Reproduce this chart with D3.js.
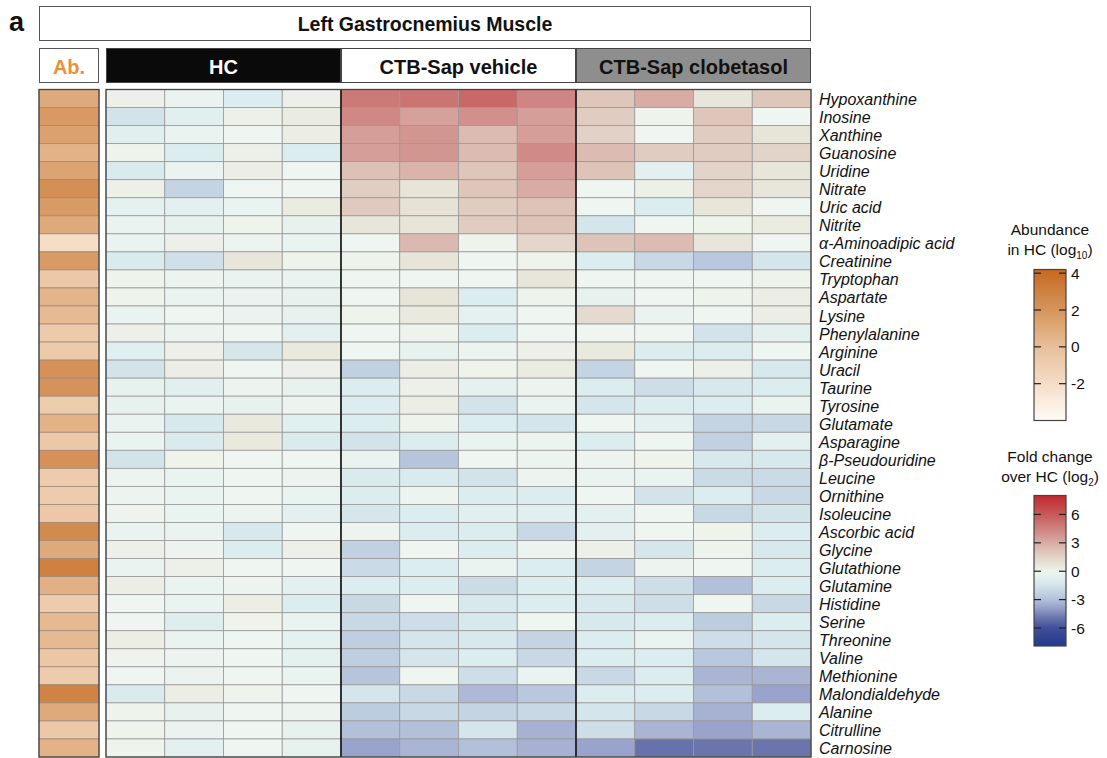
<!DOCTYPE html>
<html>
<head>
<meta charset="utf-8">
<script src="https://cdn.jsdelivr.net/npm/d3@7"></script>
<style>
  html, body { margin: 0; padding: 0; background: #fff; }
  svg { display: block; font-family: "Liberation Sans", Arial, sans-serif; }
</style>
</head>
<body>
<svg id="chart" width="1107" height="758"></svg>
<script>
// ---- data ----
const panelLetter = "a";
const tissue = "Left Gastrocnemius Muscle";
const groups = ["HC", "CTB-Sap vehicle", "CTB-Sap clobetasol"];
const replicates = [1, 2, 3, 4];

const metabolites = [
  "Hypoxanthine", "Inosine", "Xanthine", "Guanosine", "Uridine", "Nitrate",
  "Uric acid", "Nitrite", "α-Aminoadipic acid", "Creatinine", "Tryptophan",
  "Aspartate", "Lysine", "Phenylalanine", "Arginine", "Uracil", "Taurine",
  "Tyrosine", "Glutamate", "Asparagine", "β-Pseudouridine", "Leucine",
  "Ornithine", "Isoleucine", "Ascorbic acid", "Glycine", "Glutathione",
  "Glutamine", "Histidine", "Serine", "Threonine", "Valine", "Methionine",
  "Malondialdehyde", "Alanine", "Citrulline", "Carnosine"
];

// mean abundance in HC, log10
const abundanceHC = [
  1.0, 1.8, 1.4, 0.6, 1.3, 2.3, 1.7, 1.0, -2.0, 1.7, -0.6, 0.5, 0.2,
  -0.7, -0.7, 2.2, 2.1, -0.9, 0.6, -0.6, 2.2, -0.8, -0.8, -0.6, 2.5,
  1.0, 3.0, 0.7, -0.8, 0.3, 0.3, -0.5, -0.8, 2.9, 1.0, -0.6, 0.6
];

// fold change over HC mean, log2, one value per animal
const foldHC = [
  [0.2, -0.2, -1.0, 0.2], [-1.5, -0.7, 0.2, 0.4], [-0.7, -0.2, 0.0, 0.3],
  [0.1, -1.0, 0.2, -1.0], [-1.1, -0.2, 0.3, 0.0], [0.2, -2.2, 0.0, 0.0],
  [-0.5, -0.6, -0.3, 0.4], [-0.2, -0.4, 0.1, -0.4], [-0.3, 0.2, -0.1, -0.3],
  [-1.1, -1.6, 0.6, 0.1], [0.1, -0.1, -0.2, -0.3], [0.1, -0.3, -0.2, -0.4],
  [-0.3, 0.0, -0.2, -0.4], [0.2, -0.1, 0.0, -0.6], [-0.8, 0.2, -1.3, 0.5],
  [-1.5, 0.3, 0.0, 0.2], [-0.4, -0.7, -0.1, -0.4], [-0.4, -0.3, -0.4, -0.1],
  [-0.3, -1.2, 0.5, -0.8], [-0.3, -1.1, 0.5, -1.1], [-1.5, 0.1, 0.0, 0.0],
  [-0.1, -0.3, 0.0, -0.1], [-0.1, -0.3, 0.0, -0.3], [0.1, -0.3, -0.1, -0.6],
  [-0.2, -0.2, -1.2, 0.0], [0.2, -0.1, -1.0, 0.2], [-0.3, 0.2, 0.0, 0.0],
  [0.3, -0.3, -0.1, -0.6], [0.0, -0.3, 0.3, -1.0], [0.0, -0.9, 0.1, -0.3],
  [0.3, -0.2, 0.0, -0.5], [0.1, -0.1, 0.0, -0.5], [0.0, -0.2, 0.0, -0.3],
  [-1.1, 0.3, 0.1, 0.0], [0.1, -0.4, 0.0, -0.1], [0.1, -0.2, 0.0, -0.4],
  [0.1, -0.6, 0.0, -0.4]
];

const foldVehicle = [
  [4.8, 5.0, 5.5, 4.4], [4.3, 3.4, 4.0, 3.5], [3.5, 3.8, 2.4, 3.5],
  [3.5, 3.8, 2.4, 4.2], [2.2, 2.7, 2.0, 3.5], [1.7, 0.7, 2.0, 3.0],
  [1.9, 0.8, 1.8, 2.1], [0.6, 0.7, 1.8, 2.1], [0.0, 2.5, 0.1, 1.4],
  [0.1, 0.7, 0.0, 0.1], [0.0, 0.0, 0.0, 0.6], [0.0, 0.7, -1.0, 0.1],
  [0.1, 0.5, -0.5, 0.0], [0.0, 0.1, -1.0, 0.0], [0.0, -0.4, -0.1, 0.2],
  [-2.3, 0.3, 0.1, 0.4], [-1.0, 0.2, -0.5, -0.1], [-1.0, 0.3, -1.5, -0.3],
  [-1.0, 0.1, -1.0, -1.4], [-1.5, -1.0, -0.3, -0.1], [-0.2, -2.8, 0.0, -0.1],
  [-1.1, -1.1, -1.5, -0.1], [-1.0, -0.1, -1.0, -1.0], [-1.3, -1.0, -0.8, -0.8],
  [-0.1, -1.0, -1.0, -2.0], [-2.3, 0.0, -1.0, -0.1], [-1.9, -1.0, -0.3, -1.0],
  [-1.0, -1.0, -1.8, -1.0], [-2.0, 0.0, -1.2, -1.0], [-2.0, -1.7, -1.2, 0.0],
  [-2.4, -1.4, -1.2, -2.2], [-2.4, -1.4, -1.0, -2.0], [-2.8, 0.0, -1.7, -0.3],
  [-1.4, -2.0, -3.2, -2.7], [-2.5, -2.0, -2.2, -2.0], [-3.0, -3.0, -1.4, -3.4],
  [-3.8, -3.3, -3.0, -3.4]
];

const foldClobetasol = [
  [2.0, 3.0, 0.6, 2.0], [1.8, 0.1, 2.0, 0.0], [1.6, 0.0, 1.8, 0.7],
  [2.4, 1.8, 1.8, 1.5], [2.1, -0.6, 1.5, 0.6], [0.0, 0.2, 1.4, 0.6],
  [0.0, -1.0, 0.6, 0.0], [-1.4, 0.0, 0.1, 0.4], [2.1, 2.4, 0.6, 0.0],
  [-1.0, -2.0, -2.7, -1.4], [0.0, 0.0, 0.0, 0.1], [-0.4, 0.0, 0.1, 0.3],
  [1.2, -0.2, 0.0, 0.3], [0.0, 0.0, -1.5, -0.6], [0.5, -1.0, -1.0, 0.0],
  [-2.2, 0.0, 0.2, -1.2], [-1.0, -1.7, -1.2, -1.0], [-1.4, -1.0, -1.0, -0.3],
  [0.0, -0.6, -2.2, -2.0], [-1.0, 0.0, -2.3, -0.6], [-0.1, 0.1, -1.2, -1.2],
  [-0.2, -0.3, -1.9, -1.9], [0.0, -1.5, -1.0, -2.0], [-0.6, 0.0, -2.0, -1.5],
  [-0.6, 0.0, 0.1, -1.0], [0.2, -1.3, 0.1, -1.2], [-2.2, -0.1, 0.0, -1.0],
  [-1.0, -1.7, -3.0, -1.0], [-1.2, -1.7, 0.0, -2.0], [-1.2, -1.0, -2.5, -1.0],
  [-1.0, -0.2, -1.7, -1.4], [-1.0, -1.0, -2.7, -1.4], [-2.0, -1.0, -3.3, -3.3],
  [-1.0, -1.0, -3.0, -3.8], [-1.4, -2.0, -3.4, -1.0], [-1.7, -3.3, -3.8, -3.3],
  [-3.8, -5.0, -4.9, -4.9]
];

const abundanceTicks = [4, 2, 0, -2];
const foldTicks = [6, 3, 0, -3, -6];

// ---- colour scales ----
const foldStops  = [-8, -6, -4.8, -3.8, -3, -2.5, -2, -1, -0.5, 0, 0.6, 1.5, 2, 3, 4, 5, 6, 8];
const foldColors = ["#23388a", "#3f4f9a", "#6f79ae", "#9aa3cb", "#b3c0da", "#bdcde0", "#c8d8e5",
                    "#dcedef", "#e5f1ef", "#eff5f0", "#e8e6da", "#e3d4c9", "#dfc6bb",
                    "#d8aca4", "#d1908c", "#cb7572", "#c75a59", "#c2282d"];
const foldColor = d3.scaleLinear().domain(foldStops).range(foldColors)
  .interpolate(d3.interpolateRgb).clamp(true);

const abStops  = [-4, -2, 0, 2, 4, 4.2];
const abColors = ["#fffbf6", "#f5ddc8", "#e8bf9a", "#d6955c", "#c76d26", "#c46a24"];
const abColor = d3.scaleLinear().domain(abStops).range(abColors)
  .interpolate(d3.interpolateRgb).clamp(true);

// ---- layout ----
const svg = d3.select("#chart");
const font = "'Liberation Sans', Arial, sans-serif";
const heatTop = 89.5, heatBottom = 757;
const heatLeft = 106, heatRight = 811;
const abLeft = 39, abRight = 99;

const columns = [];
groups.forEach((g, gi) => replicates.forEach(r => columns.push({ group: g, gi, rep: r, key: g + "#" + r })));
const seriesByGroup = [foldHC, foldVehicle, foldClobetasol];

const x = d3.scaleBand().domain(columns.map(c => c.key)).range([heatLeft, heatRight]);
const xGroup = d3.scaleBand().domain(groups).range([heatLeft, heatRight]);
const y = d3.scaleBand().domain(metabolites).range([heatTop, heatBottom]);

// panel letter
svg.append("text").attr("x", 9).attr("y", 31).text(panelLetter)
  .attr("font-family", font).attr("font-weight", "bold").attr("font-size", 27).attr("fill", "#111");

// tissue title box
svg.append("rect").attr("x", abLeft + 0.5).attr("y", 6.5).attr("width", heatRight - abLeft - 1).attr("height", 34)
  .attr("fill", "#fff").attr("stroke", "#555").attr("stroke-width", 1);
svg.append("text").attr("x", (abLeft + heatRight) / 2).attr("y", 24).text(tissue)
  .attr("text-anchor", "middle").attr("dominant-baseline", "central")
  .attr("font-family", font).attr("font-weight", "bold").attr("font-size", 19.5).attr("fill", "#111");

// header row
const headY = 48, headH = 35;
svg.append("rect").attr("x", abLeft + 0.5).attr("y", headY + 0.5).attr("width", abRight - abLeft - 1).attr("height", headH - 1)
  .attr("fill", "#fff").attr("stroke", "#555");
svg.append("text").attr("x", (abLeft + abRight) / 2).attr("y", headY + headH / 2 + 1).text("Ab.")
  .attr("text-anchor", "middle").attr("dominant-baseline", "central")
  .attr("font-family", font).attr("font-weight", "bold").attr("font-size", 20).attr("fill", "#e8913a");

const headFill = ["#0a0a0a", "#ffffff", "#8e8e8e"];
const headText = ["#ffffff", "#111111", "#111111"];
const headG = svg.append("g");
headG.selectAll("rect").data(groups).join("rect")
  .attr("x", d => xGroup(d) + 0.5).attr("y", headY + 0.5)
  .attr("width", xGroup.bandwidth() - 1).attr("height", headH - 1)
  .attr("fill", (d, i) => headFill[i]).attr("stroke", "#444").attr("stroke-width", 1);
headG.selectAll("text").data(groups).join("text")
  .attr("x", d => xGroup(d) + xGroup.bandwidth() / 2).attr("y", headY + headH / 2 + 1)
  .attr("text-anchor", "middle").attr("dominant-baseline", "central")
  .attr("font-family", font).attr("font-weight", "bold").attr("font-size", 20)
  .attr("fill", (d, i) => headText[i]).text(d => d);

// abundance column
const abG = svg.append("g");
abG.selectAll("rect").data(metabolites).join("rect")
  .attr("x", abLeft).attr("y", d => y(d)).attr("width", abRight - abLeft).attr("height", y.bandwidth())
  .attr("fill", (d, i) => abColor(abundanceHC[i]))
  .attr("stroke", "#a08a78").attr("stroke-width", 0.8);
abG.append("rect").attr("x", abLeft).attr("y", heatTop).attr("width", abRight - abLeft).attr("height", heatBottom - heatTop)
  .attr("fill", "none").attr("stroke", "#444").attr("stroke-width", 1.3);

// fold-change cells
const cells = [];
metabolites.forEach((m, i) => columns.forEach(c => {
  cells.push({ m, col: c.key, v: seriesByGroup[c.gi][i][c.rep - 1] });
}));
svg.append("g").selectAll("rect").data(cells).join("rect")
  .attr("x", d => x(d.col)).attr("y", d => y(d.m))
  .attr("width", x.bandwidth()).attr("height", y.bandwidth())
  .attr("fill", d => foldColor(d.v))
  .attr("stroke", "#999").attr("stroke-width", 0.8);

// group separators and frame
svg.append("g").selectAll("line").data(groups.slice(1)).join("line")
  .attr("x1", d => xGroup(d)).attr("x2", d => xGroup(d))
  .attr("y1", heatTop).attr("y2", heatBottom)
  .attr("stroke", "#111").attr("stroke-width", 1.6);
svg.append("rect").attr("x", heatLeft).attr("y", heatTop).attr("width", heatRight - heatLeft).attr("height", heatBottom - heatTop)
  .attr("fill", "none").attr("stroke", "#444").attr("stroke-width", 1.3);

// row labels
svg.append("g").selectAll("text").data(metabolites).join("text")
  .attr("x", 819).attr("y", d => y(d) + y.bandwidth() / 2 + 1)
  .attr("dominant-baseline", "central")
  .attr("font-family", font).attr("font-style", "italic").attr("font-size", 16).attr("fill", "#111")
  .text(d => d);

// ---- legends ----
function drawLegend(opts) {
  const g = svg.append("g");
  const barX = 1034, barW = 32;
  const ly = d3.scaleLinear().domain(opts.domain).range([opts.y0, opts.y1]);
  const id = opts.id;
  const grad = svg.append("defs").append("linearGradient").attr("id", id)
    .attr("x1", 0).attr("y1", 0).attr("x2", 0).attr("y2", 1);
  const samples = d3.range(0, 41).map(k => opts.domain[0] + (opts.domain[1] - opts.domain[0]) * k / 40);
  grad.selectAll("stop").data(samples).join("stop")
    .attr("offset", (d, k) => (k / 40 * 100) + "%")
    .attr("stop-color", d => opts.color(d));
  g.append("rect").attr("x", barX).attr("y", opts.y0).attr("width", barW).attr("height", opts.y1 - opts.y0)
    .attr("fill", "url(#" + id + ")").attr("stroke", "#444").attr("stroke-width", 1.2);
  const t = g.selectAll("g.tick").data(opts.ticks).join("g").attr("class", "tick")
    .attr("transform", d => `translate(0,${ly(d)})`);
  t.append("line").attr("x1", barX).attr("x2", barX + 7).attr("stroke", "#222").attr("stroke-width", 1.2);
  t.append("line").attr("x1", barX + barW - 7).attr("x2", barX + barW).attr("stroke", "#222").attr("stroke-width", 1.2);
  t.append("text").attr("x", barX + barW + 5).attr("dominant-baseline", "central")
    .attr("font-family", font).attr("font-size", 15.5).attr("fill", "#111").text(d => d);
  // title, two lines with a subscript base
  const cx = barX + barW / 2;
  g.append("text").attr("x", cx).attr("y", opts.titleY).attr("text-anchor", "middle")
    .attr("font-family", font).attr("font-size", 15.5).attr("fill", "#111").text(opts.title1);
  const t2 = g.append("text").attr("x", cx).attr("y", opts.titleY + 20).attr("text-anchor", "middle")
    .attr("font-family", font).attr("font-size", 15.5).attr("fill", "#111");
  t2.append("tspan").text(opts.title2);
  t2.append("tspan").attr("font-size", 10).attr("dy", 4).text(opts.sub);
  t2.append("tspan").attr("dy", -4).text(")");
}

drawLegend({
  id: "abGrad", domain: [4.2, -4], y0: 269.5, y1: 420.5, color: abColor, ticks: abundanceTicks,
  title1: "Abundance", title2: "in HC (log", sub: "10", titleY: 235
});
drawLegend({
  id: "fcGrad", domain: [8, -7.9], y0: 495.5, y1: 646, color: foldColor, ticks: foldTicks,
  title1: "Fold change", title2: "over HC (log", sub: "2", titleY: 462
});
</script>
</body>
</html>
